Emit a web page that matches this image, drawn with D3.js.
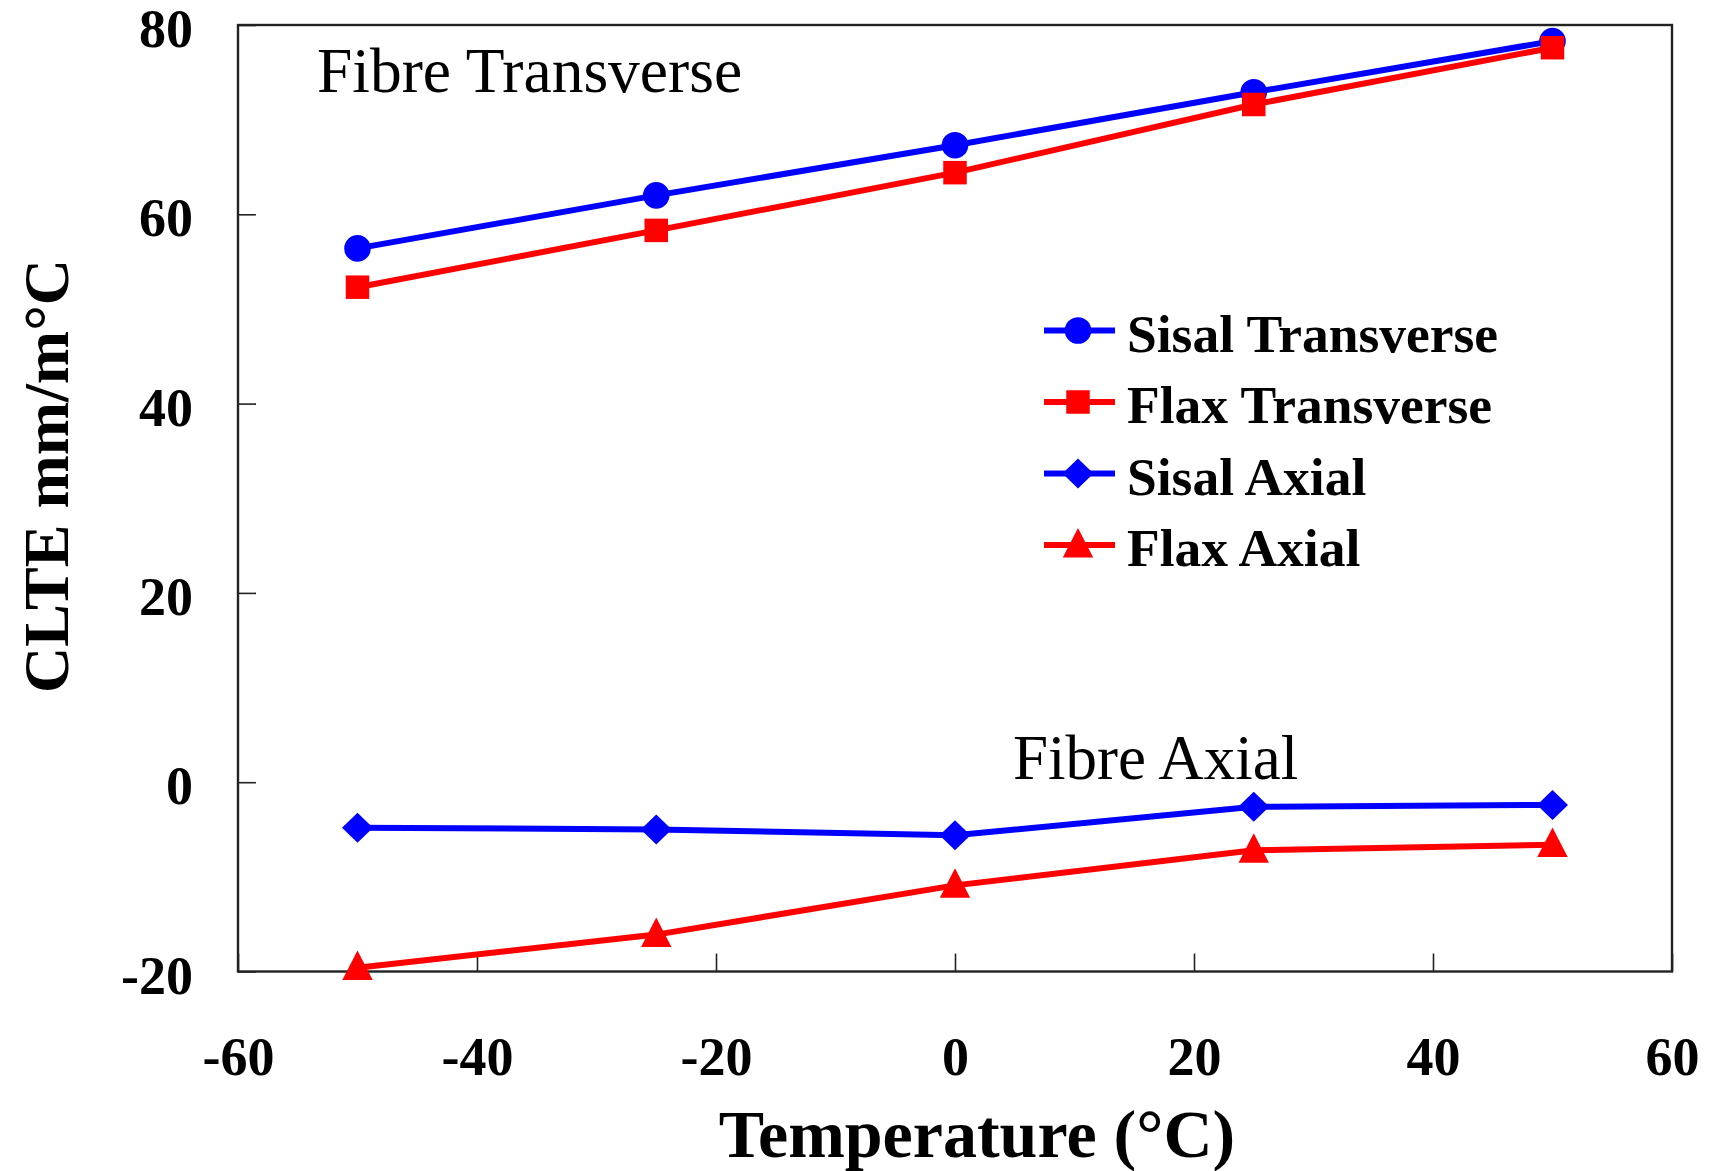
<!DOCTYPE html>
<html>
<head>
<meta charset="utf-8">
<script src="https://cdn.jsdelivr.net/npm/d3@7"></script>
<style>
  html, body { margin: 0; padding: 0; background: #fff; }
  svg { display: block; }
  text { font-family: "Liberation Serif", "Times New Roman", serif; fill: #000; }
</style>
</head>
<body>
<svg id="chart" width="1715" height="1171"></svg>
<script>
// Temperatures (°C) at which CLTE was measured
const temperatures = [-50, -25, 0, 25, 50];

// CLTE values, mm/m°C
const sisalTransverse = [56.4, 62.0, 67.3, 72.9, 78.3];
const flaxTransverse  = [52.3, 58.3, 64.4, 71.6, 77.6];
const sisalAxial      = [-4.8, -5.0, -5.6, -2.6, -2.4];
const flaxAxial       = [-19.6, -16.1, -10.9, -7.2, -6.6];

const seriesNames = ["Sisal Transverse", "Flax Transverse", "Sisal Axial", "Flax Axial"];
const seriesValues = [sisalTransverse, flaxTransverse, sisalAxial, flaxAxial];
const seriesColors = ["#0000ff", "#ff0000", "#0000ff", "#ff0000"];
const seriesSymbols = [d3.symbolCircle, d3.symbolSquare, "diamond", d3.symbolTriangle];

const xTicks = [-60, -40, -20, 0, 20, 40, 60];
const yTicks = [-20, 0, 20, 40, 60, 80];

const svg = d3.select("#chart");
const W = 1715, H = 1171;
const margin = { left: 238, right: W - 1672, top: 25, bottom: H - 971.5 };

const x = d3.scaleLinear().domain([-60, 60]).range([margin.left, W - margin.right]);
const y = d3.scaleLinear().domain([-20, 80]).range([H - margin.bottom, margin.top]);

// Symbol path generators sized to the marker dimensions
function symbolPath(kind) {
  if (kind === "diamond") {
    const hw = 15.5, hh = 15;
    return `M0,${-hh}L${hw},0L0,${hh}L${-hw},0Z`;
  }
  if (kind === d3.symbolCircle) return d3.symbol(kind, Math.PI * 13.3 * 13.3)();
  if (kind === d3.symbolSquare) return d3.symbol(kind, 23.5 * 23.5)();
  if (kind === d3.symbolTriangle) {
    const hw = 15.2, h = 29.5;
    return `M0,${-h * 0.58}L${hw},${h * 0.42}L${-hw},${h * 0.42}Z`;
  }
}

// Axes with inward ticks
const yAxis = d3.axisLeft(y)
  .tickValues(yTicks)
  .tickSizeInner(-18)
  .tickSizeOuter(0)
  .tickPadding(45)
  .tickFormat(d3.format("d"));

const xAxis = d3.axisBottom(x)
  .tickValues(xTicks)
  .tickSizeInner(-18)
  .tickSizeOuter(0)
  .tickPadding(65)
  .tickFormat(d3.format("d"));

const gy = svg.append("g").attr("transform", `translate(${margin.left},0)`).call(yAxis);
const gx = svg.append("g").attr("transform", `translate(0,${H - margin.bottom})`).call(xAxis);

[gx, gy].forEach(g => {
  g.select(".domain").remove();
  g.selectAll(".tick line").attr("stroke", "#222").attr("stroke-width", 1.6);
  g.selectAll(".tick text")
    .attr("font-family", "'Liberation Serif', 'Times New Roman', serif")
    .attr("font-size", 54)
    .attr("font-weight", "bold")
    .attr("fill", "#000")
    .text(d => d < 0 ? "-" + Math.abs(d) : d);
});
gy.selectAll(".tick text").attr("dy", "0.4em");
gx.selectAll(".tick text").attr("dy", "0");
gx.selectAll(".tick text").attr("y", 1075 - (H - margin.bottom));

// Plot frame
svg.append("rect")
  .attr("x", x(-60)).attr("y", y(80))
  .attr("width", x(60) - x(-60)).attr("height", y(-20) - y(80))
  .attr("fill", "none").attr("stroke", "#222").attr("stroke-width", 2.4);

// Series lines and markers
const line = d3.line().x((d, i) => x(temperatures[i])).y(d => y(d));

const order = [0, 1, 2, 3];
order.forEach(s => {
  svg.append("path")
    .datum(seriesValues[s])
    .attr("d", line)
    .attr("fill", "none")
    .attr("stroke", seriesColors[s])
    .attr("stroke-width", 6);
});
order.forEach(s => {
  svg.append("g").selectAll("path")
    .data(seriesValues[s])
    .join("path")
    .attr("d", symbolPath(seriesSymbols[s]))
    .attr("transform", (d, i) => `translate(${x(temperatures[i])},${y(d)})`)
    .attr("fill", seriesColors[s]);
});

// Group annotations
svg.append("text")
  .attr("x", 317).attr("y", 91.5)
  .attr("font-size", 63.5)
  .text("Fibre Transverse");

svg.append("text")
  .attr("x", 1013).attr("y", 779)
  .attr("font-size", 63)
  .text("Fibre Axial");

// Legend
const legend = svg.append("g");
const legendBaseline0 = 351.5, legendStep = 71.5;
seriesNames.forEach((name, s) => {
  const base = legendBaseline0 + s * legendStep;
  const cy = base - 21;
  legend.append("line")
    .attr("x1", 1044).attr("x2", 1115)
    .attr("y1", cy).attr("y2", cy)
    .attr("stroke", seriesColors[s]).attr("stroke-width", 6);
  legend.append("path")
    .attr("d", symbolPath(seriesSymbols[s]))
    .attr("transform", `translate(1078,${cy})`)
    .attr("fill", seriesColors[s]);
  legend.append("text")
    .attr("x", 1127).attr("y", base)
    .attr("font-size", 53.5)
    .attr("font-weight", "bold")
    .text(name);
});

// Axis titles
svg.append("text")
  .attr("x", (x(-60) + x(60)) / 2 + 22).attr("y", 1157)
  .attr("text-anchor", "middle")
  .attr("font-size", 68)
  .attr("font-weight", "bold")
  .text("Temperature (°C)");

svg.append("text")
  .attr("transform", "translate(68,476) rotate(-90)")
  .attr("text-anchor", "middle")
  .attr("font-size", 64)
  .attr("font-weight", "bold")
  .text("CLTE mm/m°C");
</script>
</body>
</html>
